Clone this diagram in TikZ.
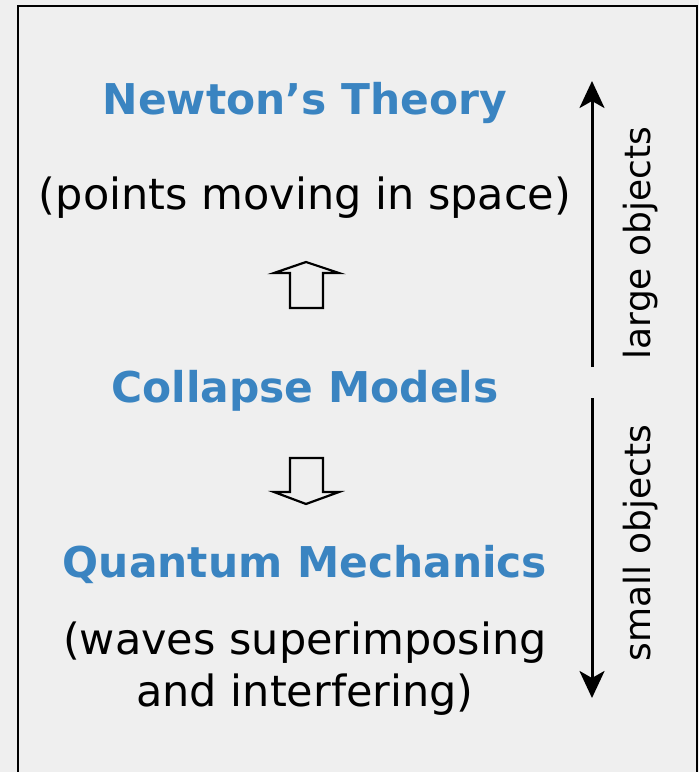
\documentclass[tikz,border=0pt]{standalone}
\usepackage{fontspec}
\setmainfont{DejaVu Sans}
\usetikzlibrary{arrows.meta}
\definecolor{titleblue}{RGB}{58,132,193}
\definecolor{panelgray}{RGB}{239,239,239}
\begin{document}
\begin{tikzpicture}[
  x=1pt, y=-1pt,
  heading/.style={anchor=base, text=titleblue, font=\fontsize{42.4}{50}\selectfont\bfseries, inner sep=0pt},
  remark/.style={anchor=base, align=center, font=\fontsize{43}{52}\selectfont, inner sep=0pt},
  scale_label/.style={rotate=90, font=\fontsize{36}{42}\selectfont, inner sep=0pt},
  hollow_arrow/.style={draw=black, line width=2.2pt, line join=miter, fill=panelgray},
  scale_arrow/.style={-{Stealth[length=27pt, width=25pt, inset=7pt]}, draw=black, line width=3pt}
]

% Panel and frame
\fill[panelgray] (0,0) rectangle (699,772);
\useasboundingbox (0,0) rectangle (699,772);
\draw[line width=2.2pt] (18,772) -- (18,6) -- (697,6) -- (697,772);

% Headings and descriptions
\node[heading] (newton) at (305, 114) {Newton’s Theory};
\node[remark]  (points) at (305, 209) {(points moving in space)};
\node[heading] (collapse) at (305, 402) {Collapse Models};
\node[heading] (quantum) at (305, 577) {Quantum Mechanics};
\node[remark]  (waves) at (305, 706) {(waves superimposing\\and interfering)};

% Hollow arrows between the theories
\draw[hollow_arrow] (290,308) -- (290,273) -- (274,273) -- (306,262)
  -- (339,273) -- (323,273) -- (323,308) -- cycle;
\draw[hollow_arrow] (290,458) -- (290,492) -- (274,492) -- (306,504)
  -- (339,492) -- (323,492) -- (323,458) -- cycle;

% Scale arrows on the right
\coordinate (large_end) at (592, 367);
\coordinate (large_tip) at (592, 81);
\coordinate (small_end) at (592, 398);
\coordinate (small_tip) at (592, 698);
\draw[scale_arrow] (large_end) -- (large_tip);
\draw[scale_arrow] (small_end) -- (small_tip);

% Labels
\node[scale_label] (large) at (641, 243) {large objects};
\node[scale_label] (small) at (641, 543) {small objects};

\end{tikzpicture}
\end{document}
